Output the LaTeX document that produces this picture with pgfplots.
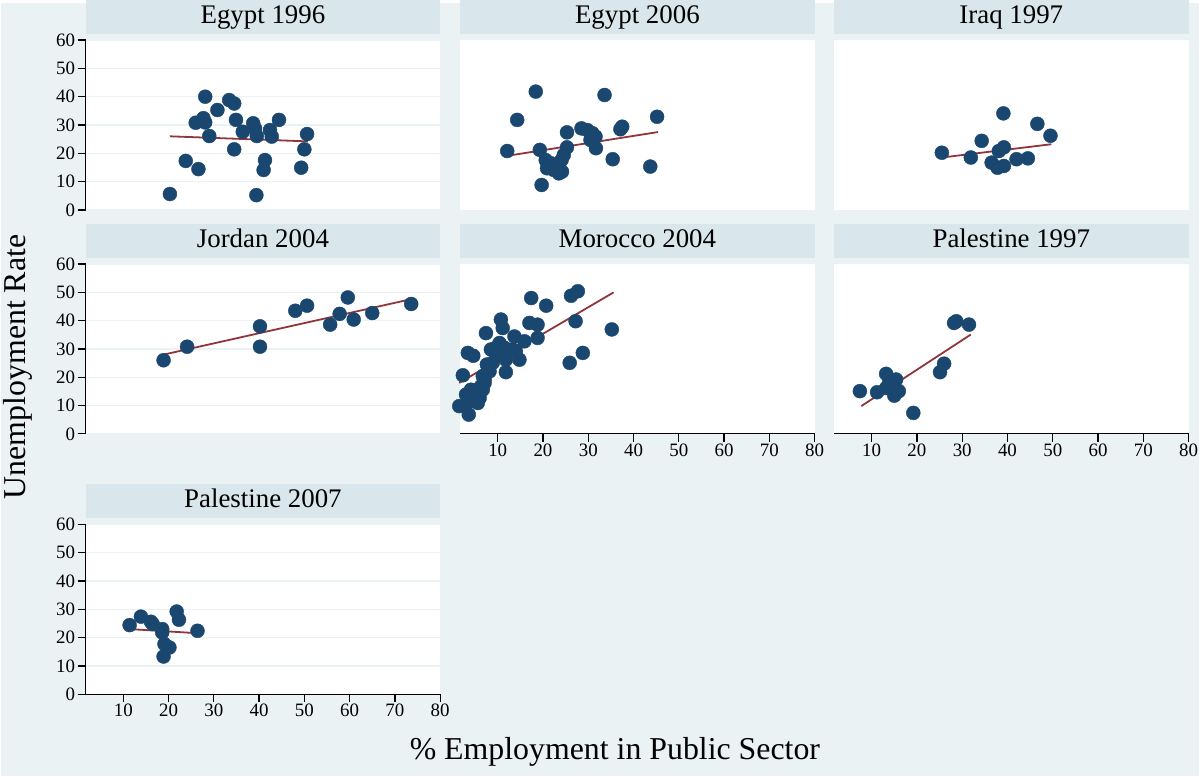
\documentclass[border=0pt]{standalone}
\usepackage{pgfplots}
\pgfplotsset{compat=1.18}
\usepackage{fontspec}
\setmainfont{Liberation Serif}
\definecolor{bgc}{RGB}{234,242,243}
\definecolor{stripc}{RGB}{217,230,235}
\definecolor{gridc}{RGB}{234,242,243}
\definecolor{navy}{RGB}{26,71,111}
\definecolor{maroonc}{RGB}{144,53,59}
\pgfplotsset{
  panel/.style={
    scale only axis, width=355bp, height=170bp,
    xmin=1.7, xmax=80, ymin=0, ymax=60,
    ytick={0,10,...,60}, xtick={10,20,...,80},
    ymajorgrids, grid style={draw=gridc, line width=1.3bp},
    axis background/.style={fill=white},
    tick align=outside, major tick length=8bp,
    tick style={black, line width=1.3bp},
    axis line style={black, line width=1.3bp},
    tick label style={font=\fontsize{19}{19}\selectfont},
    yticklabel style={inner sep=2.5bp},
    xticklabel style={inner sep=2bp},
    /pgf/number format/assume math mode=true,
    clip=false, anchor=south west,
    title style={fill=stripc, minimum width=355bp, minimum height=34bp,
      inner sep=0pt, anchor=south, at={(0.5,1)}, yshift=0pt,
      text height=18bp, text depth=5bp,
      font=\fontsize{27}{27}\selectfont},
  },
  noxaxis/.style={axis x line=none},
  xaxis/.style={axis x line*=bottom, xtick pos=bottom},
  noyaxis/.style={axis y line=none},
  yaxis/.style={axis y line*=left, ytick pos=left},
  dots/.style={only marks, mark=*, mark size=7bp, color=navy, mark options={draw=none, fill=navy}},
  fit/.style={no marks, color=maroonc, line width=1.8bp},
}
\begin{document}
\begin{tikzpicture}
\fill[bgc] (0,0) rectangle (1200bp,774bp);
% Egypt 1996
\begin{axis}[panel, noxaxis, yaxis, at={(85bp,567.3bp)}, title={Egypt 1996}]
\addplot[dots] coordinates {(20.3,5.6)(28.1,40.0)(23.8,17.3)(26.6,14.4)(26.0,30.8)(27.7,32.4)(28.1,30.9)(29.0,26.1)(30.8,35.3)(33.4,38.8)(34.5,37.6)(34.9,31.8)(34.5,21.4)(36.4,27.6)(38.7,30.6)(39.1,28.8)(39.5,26.1)(39.4,5.2)(41.3,17.6)(41.0,14.1)(42.4,28.2)(42.8,25.9)(44.4,31.8)(49.3,14.9)(50.0,21.4)(50.6,26.8)};
\addplot[fit] coordinates {(20.3,26.0)(50.8,24.2)};
\end{axis}
% Egypt 2006
\begin{axis}[panel, noxaxis, noyaxis, at={(460bp,567.3bp)}, title={Egypt 2006}]
\addplot[dots] coordinates {(12.1,20.8)(14.3,31.8)(18.4,41.8)(19.3,21.2)(19.7,8.8)(20.6,17.6)(20.9,14.7)(21.7,16.5)(22.4,14.1)(23.5,12.9)(24.2,13.5)(24.1,17.6)(24.6,19.4)(25.3,22.1)(25.3,27.4)(28.5,28.8)(29.8,28.2)(30.9,27.1)(31.6,25.9)(30.5,24.7)(31.7,21.8)(33.6,40.6)(35.4,17.9)(37.1,28.5)(37.5,29.4)(43.7,15.3)(45.2,32.9)};
\addplot[fit] coordinates {(12.1,19.1)(45.4,27.5)};
\end{axis}
% Iraq 1997
\begin{axis}[panel, noxaxis, noyaxis, at={(834.5bp,567.3bp)}, title={Iraq 1997}]
\addplot[dots] coordinates {(25.5,20.2)(31.9,18.5)(34.3,24.4)(36.5,16.7)(37.8,14.9)(38.1,20.8)(39.2,22.1)(39.1,34.1)(39.2,15.5)(42.0,17.9)(44.5,18.2)(46.6,30.4)(49.5,26.2)};
\addplot[fit] coordinates {(25.5,18.5)(49.7,23.2)};
\end{axis}
% Jordan 2004
\begin{axis}[panel, noxaxis, yaxis, at={(85bp,343bp)}, title={Jordan 2004}]
\addplot[dots] coordinates {(18.9,26.0)(24.1,30.8)(40.2,38.0)(40.2,30.8)(48.0,43.5)(50.6,45.3)(55.7,38.6)(57.8,42.4)(59.6,48.2)(60.9,40.4)(65.0,42.7)(73.6,45.9)};
\addplot[fit] coordinates {(18.9,28.0)(73.6,47.6)};
\end{axis}
% Morocco 2004
\begin{axis}[panel, xaxis, noyaxis, at={(460bp,343bp)}, title={Morocco 2004}]
\addplot[dots] coordinates {(1.5,9.8)(3.6,6.8)(2.3,20.7)(3.4,28.6)(4.6,27.6)(3.0,13.9)(4.1,15.6)(4.5,12.6)(5.6,10.9)(6.0,12.6)(5.2,14.4)(6.7,15.6)(7.1,18.0)(6.7,20.4)(7.6,24.5)(8.2,22.1)(7.4,35.6)(8.5,29.8)(9.6,30.4)(10.7,40.4)(11.1,37.4)(10.4,32.1)(10.7,28.6)(11.5,30.4)(11.8,26.2)(11.8,21.8)(13.7,34.4)(13.3,29.8)(14.8,26.2)(15.9,32.7)(17.0,39.2)(17.4,48.0)(18.8,38.6)(18.8,33.9)(20.7,45.3)(25.9,25.1)(26.2,48.8)(27.7,50.4)(27.2,39.8)(28.8,28.6)(35.2,36.9)(8.9,25.1)(10.0,28.0)(14.0,29.2)(7.1,19.2)(6.3,16.8)(4.8,12.6)(3.7,11.4)};
\addplot[fit] coordinates {(1.5,18.0)(35.6,50.0)};
\end{axis}
% Palestine 1997
\begin{axis}[panel, xaxis, noyaxis, at={(834.5bp,343bp)}, title={Palestine 1997}]
\addplot[dots] coordinates {(7.4,15.1)(11.2,14.7)(13.2,21.2)(13.9,18.6)(15.4,19.2)(15.0,13.5)(16.0,15.1)(14.3,16.2)(13.2,16.2)(19.2,7.4)(25.1,21.8)(26.0,24.8)(28.2,39.2)(28.7,39.8)(31.5,38.6)};
\addplot[fit] coordinates {(7.7,9.8)(31.9,35.1)};
\end{axis}
% Palestine 2007
\begin{axis}[panel, xaxis, yaxis, at={(85bp,82.3bp)}, title={Palestine 2007}]
\addplot[dots] coordinates {(11.4,24.4)(13.9,27.4)(16.1,25.6)(16.5,24.8)(18.6,23.0)(18.6,21.8)(21.8,29.2)(22.3,26.3)(19.1,17.7)(20.2,16.5)(18.9,13.3)(26.4,22.4)};
\addplot[fit] coordinates {(11.4,23.0)(26.8,21.5)};
\end{axis}
\node[rotate=90, font=\fontsize{32}{32}\selectfont] at (17bp,410bp) {Unemployment Rate};
\node[font=\fontsize{32}{32}\selectfont] at (615bp,24bp) {\% Employment in Public Sector};
\end{tikzpicture}
\end{document}
